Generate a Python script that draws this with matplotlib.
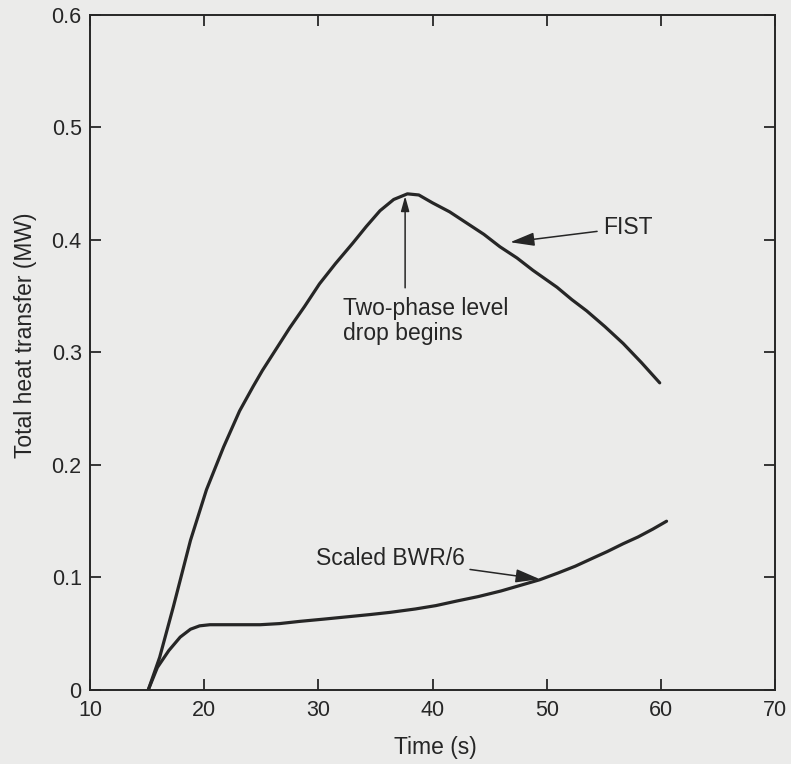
import matplotlib.pyplot as plt

# --- data ---
fist_t = [15.1, 16.1, 17.3, 18.8, 20.2, 21.7, 23.1, 24.3, 25.1, 26.3, 27.5, 28.8, 30.1, 31.5, 33.0, 34.2,
          35.4, 36.6, 37.8, 38.8, 40.0, 41.5, 43.0, 44.5, 45.9, 47.4, 48.8, 50.9, 52.2, 53.5, 55.1, 56.7,
          58.3, 59.9]
fist_q = [0.0, 0.029, 0.074, 0.133, 0.178, 0.216, 0.248, 0.270, 0.284, 0.303, 0.322, 0.341, 0.361, 0.379,
          0.397, 0.412, 0.426, 0.436, 0.441, 0.440, 0.433, 0.425, 0.415, 0.405, 0.394, 0.384, 0.373, 0.358,
          0.347, 0.337, 0.323, 0.308, 0.291, 0.273]

bwr_t = [15.1, 15.9, 16.9, 17.9, 18.8, 19.6, 20.5, 22.3, 24.9, 26.6, 28.4, 30.5, 32.5, 34.5, 36.3,
         38.5, 40.3, 42.1, 44.0, 46.0, 47.7, 49.4, 51.0, 52.5, 54.0, 55.3, 56.7, 58.0, 59.3, 60.5]
bwr_q = [0.0, 0.020, 0.035, 0.047, 0.054, 0.057, 0.058, 0.058, 0.058, 0.059, 0.061, 0.063, 0.065,
         0.067, 0.069, 0.072, 0.075, 0.079, 0.083, 0.088, 0.093, 0.098, 0.104, 0.110, 0.117, 0.123, 0.130,
         0.136, 0.143, 0.150]

xticks = [10, 20, 30, 40, 50, 60, 70]
yticks = [0, 0.1, 0.2, 0.3, 0.4, 0.5, 0.6]
ytick_labels = ["0", "0.1", "0.2", "0.3", "0.4", "0.5", "0.6"]

bg = "#ebebea"
ink = "#262626"
fs = 16.5

plt.rcParams["font.family"] = ["Liberation Sans", "DejaVu Sans"]

fig = plt.figure(figsize=(7.91, 7.64), dpi=100, facecolor=bg)
ax = fig.add_axes([0.1138, 0.0969, 0.866, 0.8835], facecolor=bg)

ax.plot(fist_t, fist_q, color=ink, lw=2.3, solid_capstyle="round", solid_joinstyle="round")
ax.plot(bwr_t, bwr_q, color=ink, lw=2.3, solid_capstyle="round", solid_joinstyle="round")

ax.set_xlim(10, 70)
ax.set_ylim(0, 0.6)
ax.set_xticks(xticks)
ax.set_yticks(yticks)
ax.set_yticklabels(ytick_labels)
ax.tick_params(direction="in", length=8, width=1.3, color=ink, labelcolor=ink,
               labelsize=15.5, top=True, right=True, pad=6)
ax.tick_params(axis="x", pad=7)
for s in ax.spines.values():
    s.set_color(ink)
    s.set_linewidth(1.4)

ax.set_xlabel("Time (s)", fontsize=fs, color=ink)
ax.set_ylabel("Total heat transfer (MW)", fontsize=fs, color=ink)
ax.xaxis.set_label_coords(0.504, -0.068)
ax.yaxis.set_label_coords(-0.078, 0.526)

arrow = dict(arrowstyle="-|>,head_length=0.9,head_width=0.25", color=ink, lw=1.1, shrinkA=2, shrinkB=0)
ax.annotate("FIST", xy=(46.8, 0.398), xytext=(54.9, 0.411), fontsize=fs, color=ink,
            va="center", ha="left", arrowprops=arrow)
ax.annotate("", xy=(37.6, 0.439), xytext=(37.6, 0.355), arrowprops=arrow)
ax.text(32.2, 0.328, "Two-phase level\ndrop begins", fontsize=fs, color=ink,
        va="center", ha="left", linespacing=1.15)
ax.annotate("Scaled BWR/6", xy=(49.4, 0.0985), xytext=(42.8, 0.117), fontsize=fs, color=ink,
            va="center", ha="right", arrowprops=arrow)

fig.savefig("out.png", dpi=100, facecolor=bg)
